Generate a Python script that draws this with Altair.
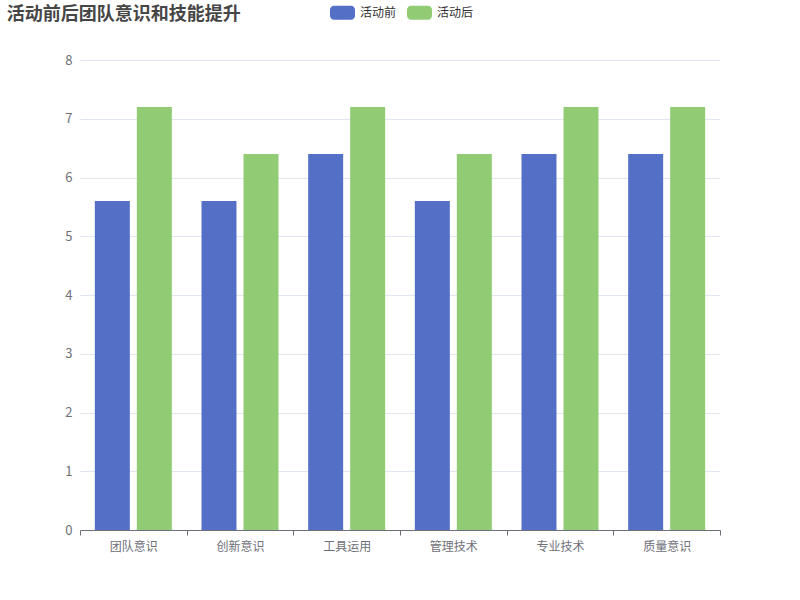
import altair as alt
import pandas as pd

categories = ["团队意识", "创新意识", "工具运用", "管理技术", "专业技术", "质量意识"]
before = [5.6, 5.6, 6.4, 5.6, 6.4, 6.4]
after = [7.2, 6.4, 7.2, 6.4, 7.2, 7.2]
series = ["活动前", "活动后"]
colors = ["#5470c6", "#91cc75"]

rows = []
for c, b, a in zip(categories, before, after):
    rows.append({"cat": c, "series": series[0], "value": b})
    rows.append({"cat": c, "series": series[1], "value": a})
df = pd.DataFrame(rows)

FONT = "Noto Sans CJK SC"
rr = ("M -0.68,-0.56 L 0.68,-0.56 A 0.32,0.32 0 0 1 1,-0.24 L 1,0.24 "
      "A 0.32,0.32 0 0 1 0.68,0.56 L -0.68,0.56 A 0.32,0.32 0 0 1 -1,0.24 "
      "L -1,-0.24 A 0.32,0.32 0 0 1 -0.68,-0.56 Z")

chart = alt.Chart(df).mark_bar().encode(
    x=alt.X("cat:N", sort=categories, title=None,
            scale=alt.Scale(paddingInner=0, paddingOuter=0),
            axis=alt.Axis(labelAngle=0, tickBand="extent", domainColor="#6e7079",
                          tickColor="#6e7079", tickSize=5, labelColor="#6e7079",
                          labelFontSize=12, labelPadding=6, labelFont=FONT, grid=False)),
    xOffset=alt.XOffset("series:N", sort=series,
                        scale=alt.Scale(paddingInner=0.1667, paddingOuter=0.353)),
    y=alt.Y("value:Q", title=None,
            scale=alt.Scale(domain=[0, 8], nice=False),
            axis=alt.Axis(values=[0, 1, 2, 3, 4, 5, 6, 7, 8], domain=False, ticks=False,
                          gridColor="#e0e6f1", labelColor="#6e7079", labelFontSize=13,
                          labelPadding=8, labelFont=FONT)),
    color=alt.Color("series:N", sort=series,
                    scale=alt.Scale(domain=series, range=colors),
                    legend=alt.Legend(title=None, orient="none", legendX=250, legendY=-60,
                                      direction="horizontal", symbolType=rr, symbolSize=625,
                                      symbolStrokeWidth=0, symbolOpacity=1,
                                      labelFont=FONT, labelFontSize=12, labelColor="#333333",
                                      columnPadding=10, labelOffset=5)),
).properties(
    width=640, height=470,
    title=alt.Title("活动前后团队意识和技能提升", anchor="start", dx=-58, offset=0, dy=24,
                    font=FONT, fontSize=18, fontWeight="bold", color="#464646"),
    autosize="none",
    padding={"left": 80, "top": 60, "right": 80, "bottom": 70},
).configure_view(stroke=None)

chart.save("out.html", embed_options={"renderer": "svg", "actions": False})
